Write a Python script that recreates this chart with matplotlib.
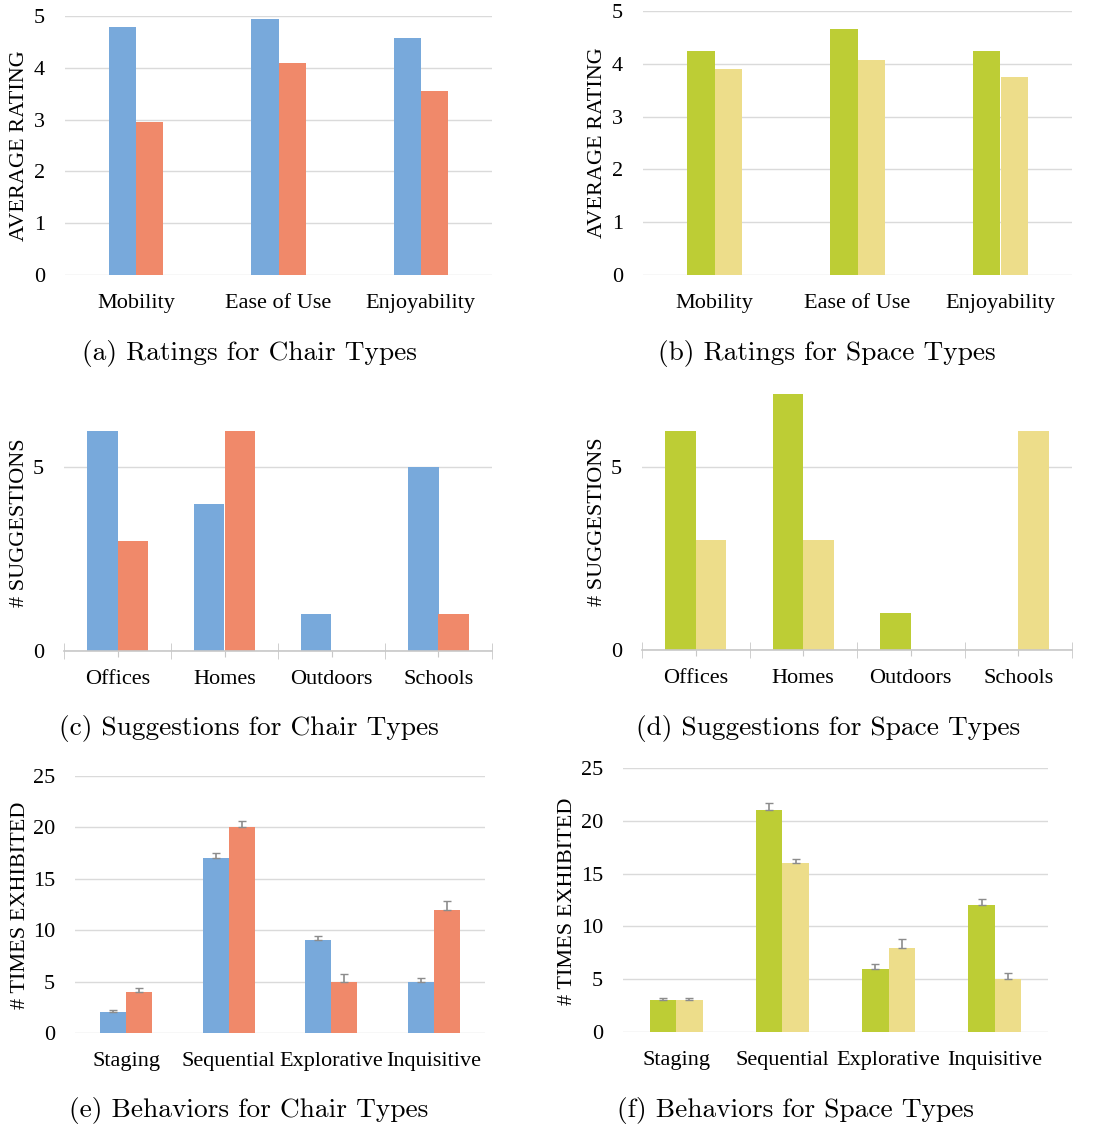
import matplotlib
matplotlib.use("Agg")
import matplotlib.pyplot as plt
import numpy as np

W, H = 1097, 1127

# ---------------- data ----------------
rating_cats = ["Mobility", "Ease of Use", "Enjoyability"]
chair_ratings_a = [4.78, 4.95, 4.58]
chair_ratings_b = [2.95, 4.10, 3.56]
space_ratings_a = [4.25, 4.66, 4.25]
space_ratings_b = [3.91, 4.08, 3.75]

sugg_cats = ["Offices", "Homes", "Outdoors", "Schools"]
chair_sugg_a = [6, 4, 1, 5]
chair_sugg_b = [3, 6, 0, 1]
space_sugg_a = [6, 7, 1, 0]
space_sugg_b = [3, 3, 0, 6]

beh_cats = ["Staging", "Sequential", "Explorative", "Inquisitive"]
chair_beh_a = [2, 17, 9, 5]
chair_beh_b = [4, 20, 5, 12]
chair_beh_a_err = [0.25, 0.5, 0.42, 0.32]
chair_beh_b_err = [0.38, 0.6, 0.7, 0.8]
space_beh_a = [3, 21, 6, 12]
space_beh_b = [3, 16, 8, 5]
space_beh_a_err = [0.2, 0.72, 0.47, 0.57]
space_beh_b_err = [0.2, 0.38, 0.76, 0.57]

ylabels = ["AVERAGE RATING", "AVERAGE RATING", "# SUGGESTIONS", "# SUGGESTIONS",
           "# TIMES EXHIBITED", "# TIMES EXHIBITED"]
captions = ["(a) Ratings for Chair Types", "(b) Ratings for Space Types",
            "(c) Suggestions for Chair Types", "(d) Suggestions for Space Types",
            "(e) Behaviors for Chair Types", "(f) Behaviors for Space Types"]

BLUE, ORANGE = "#78A9DB", "#F0896A"
GREEN, YELLOW = "#BDCD35", "#EDDD8A"
GRID = "#DADADA"
TICKFONT = "Liberation Serif"
FS = 16
PX = 0.72  # points per pixel at dpi 100

fig = plt.figure(figsize=(W / 100, H / 100), dpi=100)


def axes_px(left, right, top, bottom):
    return fig.add_axes([left / W, 1 - bottom / H, (right - left) / W, (bottom - top) / H])


def style(ax, cats, ymax, yticks, boundary_ticks=False):
    ax.set_xlim(-0.5, len(cats) - 0.5)
    ax.set_ylim(0, ymax)
    ax.set_yticks(yticks)
    ax.set_yticklabels([str(t) for t in yticks], fontfamily=TICKFONT, fontsize=FS)
    ax.set_xticks(range(len(cats)))
    ax.set_xticklabels(cats, fontfamily=TICKFONT, fontsize=FS)
    for s in ax.spines.values():
        s.set_visible(False)
    ax.grid(axis="y", color=GRID, linewidth=1.0)
    ax.set_axisbelow(True)
    ax.tick_params(axis="y", length=0, pad=20 * PX)
    if boundary_ticks:
        ax.spines["bottom"].set_visible(True)
        ax.spines["bottom"].set_color("#C8C8C8")
        ax.spines["bottom"].set_linewidth(1.2)
        ax.tick_params(axis="x", which="major", length=4, color="#C8C8C8", pad=10)
        ax.set_xticks(np.arange(-0.5, len(cats), 1.0), minor=True)
        ax.tick_params(axis="x", which="minor", length=12, direction="inout", color="#C8C8C8")
    else:
        ax.tick_params(axis="x", length=0, pad=14)


def bars(ax, a, b, ca, cb, w, ea=None, eb=None):
    x = np.arange(len(a))
    ekw = dict(ecolor="#8C8C8C", elinewidth=1.2, capsize=3, capthick=1.0)
    if ea is not None:
        ax.bar(x - w / 2, a, w, color=ca, yerr=[np.zeros(len(a)), ea], error_kw=ekw)
        ax.bar(x + w / 2, b, w, color=cb, yerr=[np.zeros(len(b)), eb], error_kw=ekw)
    else:
        ax.bar(x - w / 2, a, w, color=ca)
        ax.bar(x + w / 2, b, w, color=cb)


# (a)
ax = axes_px(65, 492, 16, 275)
bars(ax, chair_ratings_a, chair_ratings_b, BLUE, ORANGE, 0.19)
style(ax, rating_cats, 5, [0, 1, 2, 3, 4, 5])
# (b)
ax = axes_px(643, 1072, 11, 275)
bars(ax, space_ratings_a, space_ratings_b, GREEN, YELLOW, 0.19)
style(ax, rating_cats, 5, [0, 1, 2, 3, 4, 5])
# (c)
ax = axes_px(64, 492, 394, 651)
bars(ax, chair_sugg_a, chair_sugg_b, BLUE, ORANGE, 0.286)
style(ax, sugg_cats, 7, [0, 5], boundary_ticks=True)
# (d)
ax = axes_px(642, 1072, 394, 650)
bars(ax, space_sugg_a, space_sugg_b, GREEN, YELLOW, 0.286)
style(ax, sugg_cats, 7, [0, 5], boundary_ticks=True)
# (e)
ax = axes_px(75, 485, 776, 1033)
bars(ax, chair_beh_a, chair_beh_b, BLUE, ORANGE, 0.253, chair_beh_a_err, chair_beh_b_err)
style(ax, beh_cats, 25, [0, 5, 10, 15, 20, 25])
# (f)
ax = axes_px(623, 1048, 768, 1032)
bars(ax, space_beh_a, space_beh_b, GREEN, YELLOW, 0.25, space_beh_a_err, space_beh_b_err)
style(ax, beh_cats, 25, [0, 5, 10, 15, 20, 25])

# y-axis labels
ylab_pos = [(20, 146), (597, 143), (20, 523), (597, 522), (21, 905), (567, 901)]
for txt, (cx, cy) in zip(ylabels, ylab_pos):
    fig.text(cx / W, 1 - cy / H, txt, family=TICKFONT, fontsize=FS,
             rotation=90, ha="center", va="center")

# captions
cap_pos = [(249, 353), (827, 353), (249, 728), (828, 728), (249, 1111), (795, 1111)]
for txt, (cx, cy) in zip(captions, cap_pos):
    fig.text(cx / W, 1 - cy / H, txt, family="cmr10", fontsize=19.7,
             ha="center", va="center")

fig.savefig("out.png", dpi=100)
